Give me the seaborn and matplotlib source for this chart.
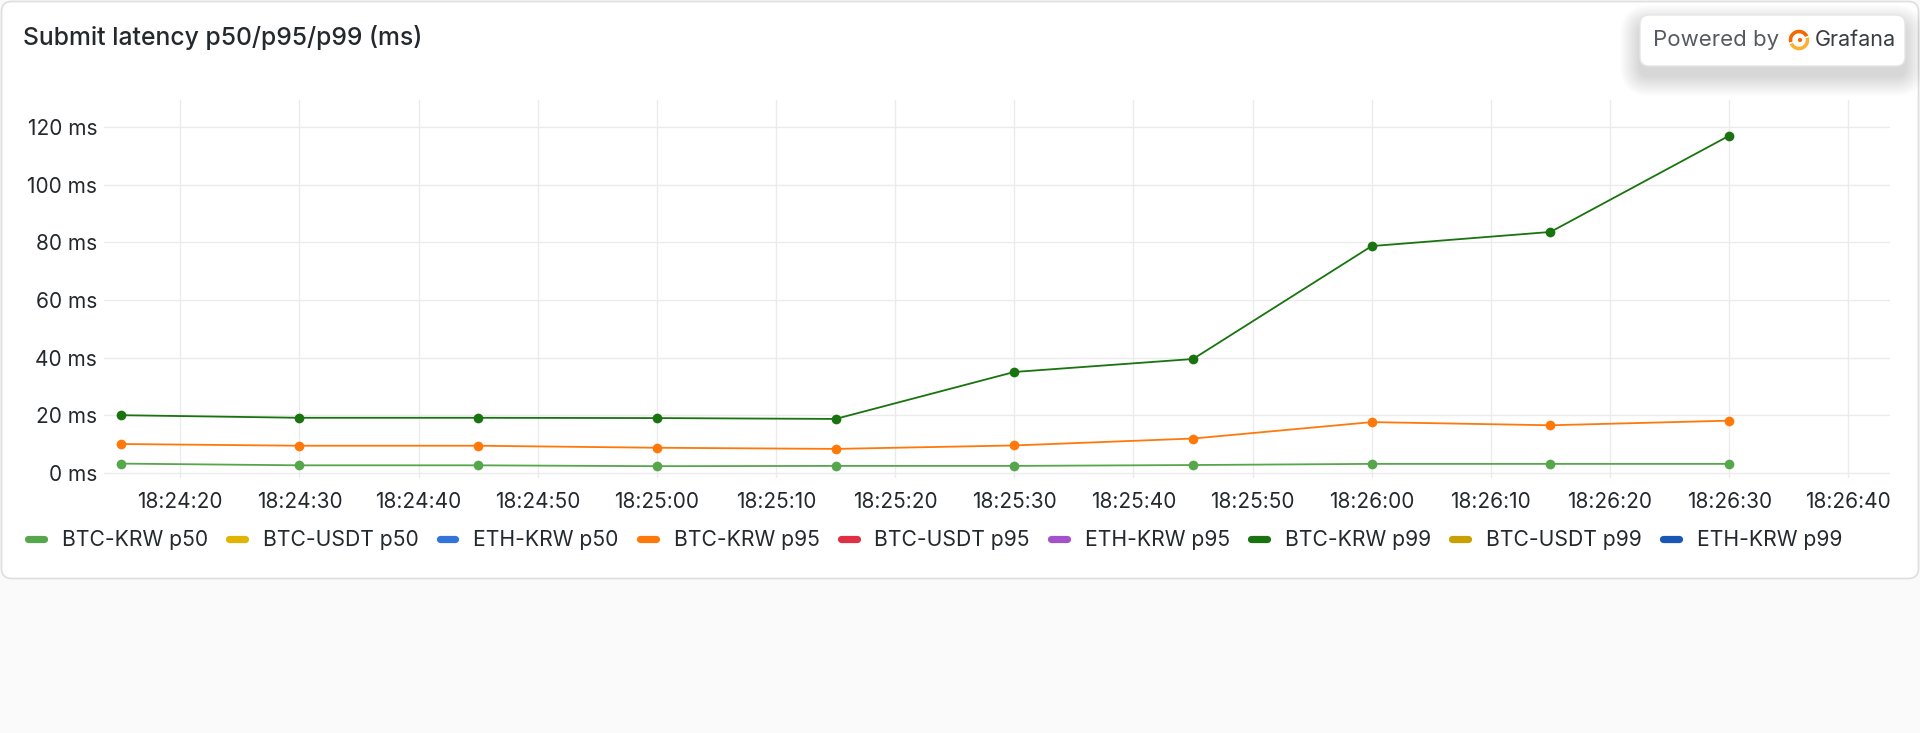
import numpy as np
import pandas as pd
import matplotlib
matplotlib.use("Agg")
import matplotlib.pyplot as plt
import matplotlib.dates as mdates
from matplotlib.patches import FancyBboxPatch, Wedge, Circle
from matplotlib.transforms import IdentityTransform
from matplotlib.lines import Line2D
import seaborn as sns

# ---------------- data ----------------
times = ["18:24:15", "18:24:30", "18:24:45", "18:25:00", "18:25:15",
         "18:25:30", "18:25:45", "18:26:00", "18:26:15", "18:26:30"]
btc_krw_p50 = [3.2, 2.6, 2.6, 2.3, 2.4, 2.4, 2.7, 3.1, 3.1, 3.1]
btc_krw_p95 = [10.0, 9.4, 9.4, 8.7, 8.3, 9.5, 11.9, 17.6, 16.5, 18.1]
btc_krw_p99 = [20.0, 19.1, 19.1, 19.0, 18.7, 35.0, 39.5, 78.7, 83.6, 117.0]
btc_usdt_p50 = []
eth_krw_p50 = []
btc_usdt_p95 = []
eth_krw_p95 = []
btc_usdt_p99 = []
eth_krw_p99 = []

series_names = ["BTC-KRW p50", "BTC-USDT p50", "ETH-KRW p50",
                "BTC-KRW p95", "BTC-USDT p95", "ETH-KRW p95",
                "BTC-KRW p99", "BTC-USDT p99", "ETH-KRW p99"]
series_colors = ["#56A64B", "#E0B400", "#3274D9",
                 "#FF780A", "#E02F44", "#A352CC",
                 "#19730E", "#C8A000", "#1857B6"]
series_values = [btc_krw_p50, btc_usdt_p50, eth_krw_p50,
                 btc_krw_p95, btc_usdt_p95, eth_krw_p95,
                 btc_krw_p99, btc_usdt_p99, eth_krw_p99]
y_ticks = [0, 20, 40, 60, 80, 100, 120]
title = "Submit latency p50/p95/p99 (ms)"

# ---------------- long-form table ----------------
rows = []
for name, vals in zip(series_names, series_values):
    for t, v in zip(times, vals):
        rows.append({"time": pd.Timestamp("2024-01-01 " + t), "ms": v, "series": name})
df = pd.DataFrame(rows)
palette = dict(zip(series_names, series_colors))
present = [n for n, v in zip(series_names, series_values) if len(v)]

# ---------------- figure ----------------
sns.set_theme(style="white")
plt.rcParams["font.family"] = ["Inter", "DejaVu Sans"]
W, H = 1920, 733
fig = plt.figure(figsize=(W / 100, H / 100), dpi=100, facecolor="#fafafa")

# card
card = FancyBboxPatch((1.5, H - 578.5), W - 3, 577, boxstyle="round,pad=0,rounding_size=10",
                      transform=IdentityTransform(), facecolor="white", edgecolor="#dedede",
                      linewidth=1.2, zorder=-5)
fig.patches.append(card)

ax = fig.add_axes([104 / W, 1 - 478 / H, (1890 - 104) / W, (478 - 100) / H])
ax.set_facecolor("none")
ax.set_zorder(1)

text_color = "#24292E"
sns.lineplot(data=df[df["series"].isin(present)], x="time", y="ms", hue="series",
             hue_order=present, palette=palette, marker="o", markersize=7,
             markeredgewidth=0, linewidth=1.3, legend=False, ax=ax, zorder=3)

t0 = pd.Timestamp("2024-01-01 18:24:13.6")
t1 = pd.Timestamp("2024-01-01 18:26:43.5")
ax.set_xlim(t0, t1)
ax.set_ylim(-1.8, 129.4)
ax.set_yticks(y_ticks)
ax.set_yticklabels([f"{v} ms" for v in y_ticks])
ax.xaxis.set_major_locator(mdates.SecondLocator(bysecond=range(0, 60, 10)))
ax.xaxis.set_major_formatter(mdates.DateFormatter("%H:%M:%S"))
ax.set_xlabel("")
ax.set_ylabel("")
for s in ax.spines.values():
    s.set_visible(False)
ax.grid(True, color="#ebebeb", linewidth=1.0)
ax.set_axisbelow(True)
ax.tick_params(axis="both", length=0, labelsize=15, colors=text_color)
ax.tick_params(axis="y", pad=5)
ax.tick_params(axis="x", pad=10)

# title
fig.text(23 / W, 1 - 37 / H, title, fontsize=17.8, fontweight="medium",
         color=text_color, va="center", ha="left")

# legend
handles = [Line2D([0], [0], color=c, linewidth=5.2, solid_capstyle="round")
           for c in series_colors]
leg = fig.legend(handles, series_names, ncol=9, loc="center left",
                 bbox_to_anchor=(28 / W, 1 - 540 / H), frameon=False,
                 fontsize=15.2, handlelength=0.75, handletextpad=0.85,
                 columnspacing=1.0, borderpad=0, borderaxespad=0)
for t in leg.get_texts():
    t.set_color(text_color)

# "Powered by Grafana" badge with soft shadow
bx0, by0, bx1, by1 = 1640, 15, 1905, 66
for i in range(20, 0, -1):
    sh = FancyBboxPatch((bx0 - i, H - by1 - i - 10), (bx1 - bx0) + 2 * i, (by1 - by0) + 2 * i,
                        boxstyle="round,pad=0,rounding_size=%d" % (10 + i),
                        transform=IdentityTransform(), facecolor="#000000",
                        edgecolor="none", alpha=0.006, zorder=5)
    fig.patches.append(sh)
badge = FancyBboxPatch((bx0, H - by1), bx1 - bx0, by1 - by0,
                       boxstyle="round,pad=0,rounding_size=9",
                       transform=IdentityTransform(), facecolor="white",
                       edgecolor="#e6e6e6", linewidth=1.0, zorder=6)
fig.patches.append(badge)
fig.text(1653 / W, 1 - 40 / H, "Powered by", fontsize=16, color="#555a60",
         va="center", ha="left", zorder=7)
fig.text(1815 / W, 1 - 40 / H, "Grafana", fontsize=15.5, color="#3a3d42",
         va="center", ha="left", zorder=7)
lx, ly = 1799, H - 40
fig.patches.append(Wedge((lx, ly), 11, 20, 200, width=5, facecolor="#F46800",
                         transform=IdentityTransform(), zorder=7))
fig.patches.append(Wedge((lx, ly), 11, 200, 380, width=5, facecolor="#FBB131",
                         transform=IdentityTransform(), zorder=7))
fig.patches.append(Circle((lx + 1, ly), 2.8, facecolor="#F46800",
                          transform=IdentityTransform(), zorder=7))

fig.savefig("out.png", dpi=100, facecolor=fig.get_facecolor())
